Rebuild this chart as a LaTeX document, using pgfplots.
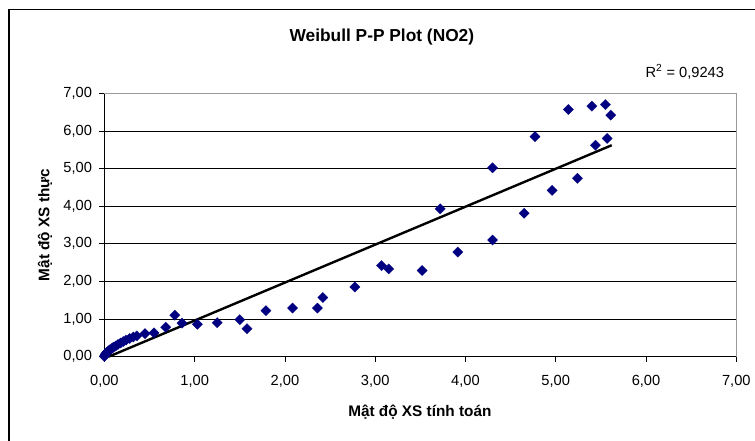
\documentclass[border=0pt]{standalone}
\usepackage{pgfplots}
\pgfplotsset{compat=1.18}
\usepackage{fontspec}
\setmainfont{Liberation Sans}
\definecolor{navy}{HTML}{000080}

\begin{document}
\begin{tikzpicture}
% canvas in reference pixels, origin at the plot's lower left corner
\begin{scope}[x=0.75pt,y=0.75pt]
\useasboundingbox (-104.4,-84.3) rectangle (650.6,356.7);
\draw[line width=1pt] (-95.4,-95) -- (-95.4,347.5) -- (665,347.5);
\end{scope}

\begin{axis}[
  at={(0,0)}, anchor=south west,
  scale only axis, width=474.1pt, height=197.5pt,
  xmin=0, xmax=7, ymin=0, ymax=7,
  xtick={0,1,...,7}, ytick={0,1,...,7},
  axis lines=left, axis line style={-, black, line width=0.6pt},
  tick align=outside, major tick length=3.75pt,
  tick style={black, line width=0.6pt},
  ymajorgrids, grid style={black, line width=0.5pt},
  ticklabel style={font=\fontsize{11}{13}\selectfont},
  xticklabel style={yshift=-7pt},
  yticklabel style={xshift=-2pt},
  /pgf/number format/.cd, fixed, fixed zerofill, precision=2, use comma, assume math mode=true,
  /pgfplots/.cd,
  clip=false,
]
\draw[gray!80, line width=0.6pt] (rel axis cs:0,1) -- (rel axis cs:1,1) -- (rel axis cs:1,0);

\addplot[only marks, mark=square*, mark size=2.75pt,
  mark options={rotate=45, fill=navy, draw=navy, line width=0.1pt}] table {
x y
0.000 0.000
0.005 0.03
0.010 0.06
0.020 0.09
0.030 0.12
0.045 0.15
0.060 0.18
0.080 0.21
0.100 0.25
0.125 0.28
0.150 0.32
0.180 0.36
0.210 0.40
0.240 0.44
0.280 0.48
0.320 0.52
0.360 0.55
0.450 0.61
0.550 0.63
0.680 0.78
0.780 1.10
0.860 0.89
1.030 0.86
1.250 0.90
1.500 0.98
1.580 0.74
1.790 1.22
2.085 1.29
2.360 1.29
2.420 1.57
2.775 1.85
3.070 2.42
3.150 2.33
3.520 2.29
3.720 3.93
3.915 2.78
4.300 3.10
4.300 5.02
4.650 3.81
4.770 5.85
4.960 4.42
5.140 6.57
5.240 4.74
5.400 6.66
5.440 5.62
5.550 6.70
5.570 5.80
5.610 6.42
};
% linear trendline
\addplot[black, line width=1.8pt] coordinates {(0.05,0) (5.62,5.62)};
\end{axis}

\begin{scope}[x=0.75pt,y=0.75pt]
\node[font=\bfseries\fontsize{13}{15}\selectfont] at (277.6,319.7) {Weibull P-P Plot (NO2)};
\node[font=\fontsize{11}{13}\selectfont] at (580.6,284.7) {R\textsuperscript{2} = 0,9243};
\node[font=\bfseries\fontsize{11.5}{14}\selectfont] at (315.6,-55.3) {Mật độ XS tính toán};
\node[font=\bfseries\fontsize{11.5}{14}\selectfont, rotate=90] at (-59.4,131.7) {Mật độ XS thực};
\end{scope}
\end{tikzpicture}
\end{document}
